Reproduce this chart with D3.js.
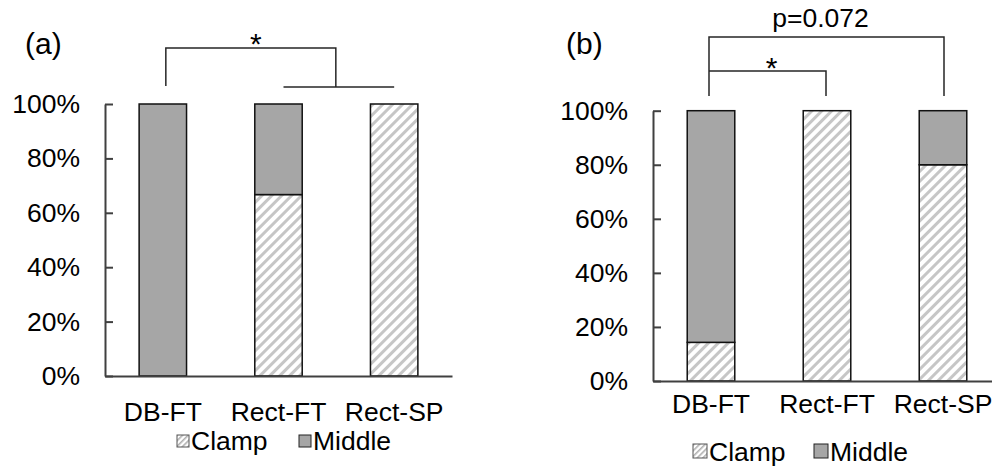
<!DOCTYPE html>
<html>
<head>
<meta charset="utf-8">
<script src="https://cdn.jsdelivr.net/npm/d3@7"></script>
<style>
  body { margin: 0; background: #fff; }
  svg { display: block; }
  text { font-family: "Liberation Sans", Arial, sans-serif; fill: #000; }
  .axis path, .axis line { stroke: #404040; stroke-width: 2; }
  .axis text { font-size: 26.5px; font-family: "Liberation Sans", Arial, sans-serif; fill: #000; }
  .bracket { fill: none; stroke: #262626; stroke-width: 1.5; }
</style>
</head>
<body>
<div id="vis"></div>
<script>
// categories and values (percent)
var categories = ["DB-FT", "Rect-FT", "Rect-SP"];
var clampA = [0, 66.7, 100];
var middleA = [100, 33.3, 0];
var clampB = [14.3, 100, 80];
var middleB = [85.7, 0, 20];
var yTicks = [0, 20, 40, 60, 80, 100];
var seriesNames = ["Clamp", "Middle"];

var width = 992, height = 469;

var svg = d3.select("#vis").append("svg")
    .attr("width", width)
    .attr("height", height);

// hatch pattern for Clamp
var defs = svg.append("defs");
defs.append("pattern")
    .attr("id", "hatch")
    .attr("patternUnits", "userSpaceOnUse")
    .attr("width", 7)
    .attr("height", 7)
    .attr("patternTransform", "rotate(45)")
  .call(function(p){
    p.append("rect").attr("width", 7).attr("height", 7).attr("fill", "#fff");
    p.append("rect").attr("width", 3).attr("height", 7).attr("fill", "#c6c6c6");
  });
defs.append("pattern")
    .attr("id", "hatchSmall")
    .attr("patternUnits", "userSpaceOnUse")
    .attr("width", 4)
    .attr("height", 4)
    .attr("patternTransform", "rotate(45)")
  .call(function(p){
    p.append("rect").attr("width", 4).attr("height", 4).attr("fill", "#fff");
    p.append("rect").attr("width", 1.6).attr("height", 4).attr("fill", "#b0b0b0");
  });

var fills = {Clamp: "url(#hatch)", Middle: "#a6a6a6"};

function drawPanel(opt){
    var g = svg.append("g");

    var xScale = d3.scaleBand()
        .domain(categories)
        .range([opt.x0, opt.x1])
        .paddingInner(0.59)
        .paddingOuter(0.295);

    var yScale = d3.scaleLinear()
        .domain([0, 100])
        .range([opt.y0, opt.y1]);

    // stacked bars
    var rows = categories.map(function(c, i){
        return {cat: c, Clamp: opt.clamp[i], Middle: opt.middle[i]};
    });
    var stack = d3.stack().keys(seriesNames)(rows);

    stack.forEach(function(layer){
        g.selectAll(null)
            .data(layer.filter(function(d){ return d[1] - d[0] > 0; }))
            .enter().append("rect")
            .attr("x", function(d){ return xScale(d.data.cat); })
            .attr("width", xScale.bandwidth())
            .attr("y", function(d){ return yScale(d[1]); })
            .attr("height", function(d){ return yScale(d[0]) - yScale(d[1]); })
            .attr("fill", fills[layer.key])
            .attr("stroke", "#111")
            .attr("stroke-width", 1.5);
    });

    // y axis: ticks inside, labels left
    g.append("g")
        .attr("class", "axis")
        .attr("transform", "translate(" + opt.x0 + ",0)")
        .call(d3.axisLeft(yScale)
            .tickValues(yTicks)
            .tickSizeInner(-8)
            .tickSizeOuter(0)
            .tickPadding(25)
            .tickFormat(function(d){ return d + "%"; }));

    // x axis
    g.append("g")
        .attr("class", "axis")
        .attr("transform", "translate(0," + opt.y0 + ")")
        .call(d3.axisBottom(xScale).tickSize(0).tickPadding(opt.xPad));

    // panel label
    g.append("text")
        .attr("x", opt.labelX)
        .attr("y", 54)
        .style("font-size", "30px")
        .text(opt.label);

    // significance brackets
    opt.brackets(g, xScale);

    // legend
    seriesNames.forEach(function(name, i){
        var lx = opt.legendX[i];
        g.append("rect")
            .attr("x", lx)
            .attr("y", opt.legendY - 3 - opt.sw)
            .attr("width", opt.sw)
            .attr("height", opt.sw)
            .attr("fill", name === "Clamp" ? "url(#hatchSmall)" : fills[name])
            .attr("stroke", name === "Clamp" ? "#555" : "#222")
            .attr("stroke-width", 1);
        g.append("text")
            .attr("x", lx + opt.sw + 2)
            .attr("y", opt.legendY)
            .style("font-size", "26.5px")
            .text(name);
    });
}

function cx(xScale, c){ return xScale(c) + xScale.bandwidth() / 2; }

drawPanel({
    label: "(a)", labelX: 25,
    x0: 105, x1: 452, y0: 376, y1: 104, xPad: 26,
    clamp: clampA, middle: middleA,
    legendX: [177, 299], legendY: 450, sw: 12,
    brackets: function(g, xScale){
        var l = cx(xScale, "DB-FT") + 3;
        var a = cx(xScale, "Rect-FT") + 5;
        var b = cx(xScale, "Rect-SP");
        var r = (a + b) / 2 - 3;
        g.append("path").attr("class", "bracket")
            .attr("d", "M" + l + ",86V48H" + r + "V87");
        g.append("path").attr("class", "bracket")
            .attr("d", "M" + a + ",87H" + b);
        g.append("text").attr("x", (l + r) / 2 + 5).attr("y", 54)
            .attr("text-anchor", "middle").style("font-size", "30px").text("*");
    }
});

drawPanel({
    label: "(b)", labelX: 566,
    x0: 653, x1: 1001, y0: 381, y1: 110.7, xPad: 13,
    clamp: clampB, middle: middleB,
    legendX: [693, 814], legendY: 461, sw: 14,
    brackets: function(g, xScale){
        var l = cx(xScale, "DB-FT") - 2;
        var m = cx(xScale, "Rect-FT") - 1;
        var r = cx(xScale, "Rect-SP") + 1;
        g.append("path").attr("class", "bracket")
            .attr("d", "M" + l + ",96V37H" + r + "V96");
        g.append("path").attr("class", "bracket")
            .attr("d", "M" + l + ",71H" + m + "V96");
        g.append("text").attr("x", (l + m) / 2 + 4).attr("y", 78)
            .attr("text-anchor", "middle").style("font-size", "30px").text("*");
        g.append("text").attr("x", (l + r) / 2 - 6).attr("y", 27)
            .attr("text-anchor", "middle").style("font-size", "26.5px").text("p=0.072");
    }
});
</script>
</body>
</html>
